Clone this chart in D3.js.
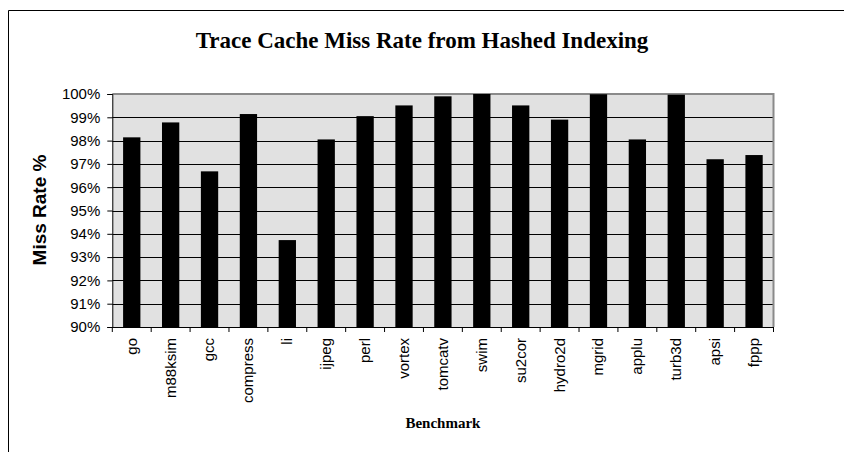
<!DOCTYPE html>
<html>
<head>
<meta charset="utf-8">
<script src="https://cdn.jsdelivr.net/npm/d3@7"></script>
<style>
  html, body { margin: 0; padding: 0; background: #fff; }
  svg { display: block; }
</style>
</head>
<body>
<script>
// Benchmarks and their trace cache miss rates (fraction) with hashed indexing
const benchmarks = ["go", "m88ksim", "gcc", "compress", "li", "ijpeg", "perl", "vortex",
  "tomcatv", "swim", "su2cor", "hydro2d", "mgrid", "applu", "turb3d", "apsi", "fppp"];
const missRates = [0.9814, 0.9878, 0.9668, 0.9914, 0.9373, 0.9805, 0.9905, 0.9951,
  0.9990, 1.0000, 0.9951, 0.9890, 0.9999, 0.9805, 0.9997, 0.9720, 0.9738];
const yTicks = [0.90, 0.91, 0.92, 0.93, 0.94, 0.95, 0.96, 0.97, 0.98, 0.99, 1.00];

const W = 844, H = 452;
const plot = { left: 112.3, right: 773.5, top: 94, bottom: 327 };

const svg = d3.select("body").append("svg").attr("width", W).attr("height", H);

// outer chart frame (continues past the right and bottom edges)
svg.append("path")
  .attr("d", `M8.5,${H} V10.5 H${W}`)
  .attr("fill", "none").attr("stroke", "#000").attr("stroke-width", 1);

const x = d3.scaleBand()
  .domain(benchmarks)
  .range([plot.left, plot.right])
  .paddingInner(0.555)
  .paddingOuter(0.2775);

const y = d3.scaleLinear()
  .domain([0.90, 1.00])
  .range([plot.bottom, plot.top]);

// plot background
svg.append("rect")
  .attr("x", plot.left).attr("y", plot.top)
  .attr("width", plot.right - plot.left).attr("height", plot.bottom - plot.top)
  .attr("fill", "#e1e1e1");

// horizontal gridlines
svg.append("g").selectAll("line").data(yTicks.slice(1, -1)).join("line")
  .attr("x1", plot.left).attr("x2", plot.right)
  .attr("y1", d => Math.round(y(d)) + 0.5).attr("y2", d => Math.round(y(d)) + 0.5)
  .attr("stroke", "#000").attr("stroke-width", 1);

// plot border (top and right in gray)
svg.append("path")
  .attr("d", `M${plot.left},${plot.top} H${plot.right} V${plot.bottom}`)
  .attr("fill", "none").attr("stroke", "#8a8a8a").attr("stroke-width", 2);

// bars
svg.append("g").selectAll("rect").data(benchmarks).join("rect")
  .attr("x", d => x(d))
  .attr("width", x.bandwidth())
  .attr("y", (d, i) => y(missRates[i]))
  .attr("height", (d, i) => y(0.90) - y(missRates[i]))
  .attr("fill", "#000");

// y axis
const yAxis = d3.axisLeft(y)
  .tickValues(yTicks)
  .tickFormat(d3.format(".0%"))
  .tickSize(5)
  .tickPadding(7);
const gy = svg.append("g")
  .attr("transform", `translate(${plot.left},0)`)
  .call(yAxis);
gy.select(".domain").attr("stroke", "#000");
gy.selectAll(".tick line").attr("stroke", "#000");
gy.selectAll("text")
  .attr("font-family", "'Liberation Sans', Arial, sans-serif")
  .attr("font-size", 15)
  .attr("fill", "#000");

// x axis: ticks at category boundaries, rotated labels
const boundaries = benchmarks.map(d => x(d) + x.bandwidth() / 2 - x.step() / 2)
  .concat([x(benchmarks[benchmarks.length - 1]) + x.bandwidth() / 2 + x.step() / 2]);
const gx = svg.append("g");
gx.append("line")
  .attr("x1", plot.left).attr("x2", plot.right)
  .attr("y1", plot.bottom + 0.5).attr("y2", plot.bottom + 0.5)
  .attr("stroke", "#000");
gx.selectAll("line.tk").data(boundaries).join("line")
  .attr("class", "tk")
  .attr("x1", d => d).attr("x2", d => d)
  .attr("y1", plot.bottom).attr("y2", plot.bottom + 5)
  .attr("stroke", "#000");
gx.selectAll("text").data(benchmarks).join("text")
  .attr("transform", d => `translate(${x(d) + x.bandwidth() / 2},${plot.bottom + 11}) rotate(-90)`)
  .attr("text-anchor", "end")
  .attr("dy", "0.33em")
  .attr("font-family", "'Liberation Sans', Arial, sans-serif")
  .attr("font-size", 15)
  .attr("fill", "#000")
  .text(d => d);

// titles
svg.append("text")
  .attr("x", 422).attr("y", 48)
  .attr("text-anchor", "middle")
  .attr("font-family", "'Liberation Serif', 'Times New Roman', serif")
  .attr("font-weight", "bold")
  .attr("font-size", 23)
  .text("Trace Cache Miss Rate from Hashed Indexing");

svg.append("text")
  .attr("x", (plot.left + plot.right) / 2).attr("y", 428)
  .attr("text-anchor", "middle")
  .attr("font-family", "'Liberation Serif', 'Times New Roman', serif")
  .attr("font-weight", "bold")
  .attr("font-size", 15)
  .text("Benchmark");

svg.append("text")
  .attr("transform", `translate(46,210) rotate(-90)`)
  .attr("text-anchor", "middle")
  .attr("font-family", "'Liberation Sans', Arial, sans-serif")
  .attr("font-weight", "bold")
  .attr("font-size", 19)
  .text("Miss Rate %");
</script>
</body>
</html>
